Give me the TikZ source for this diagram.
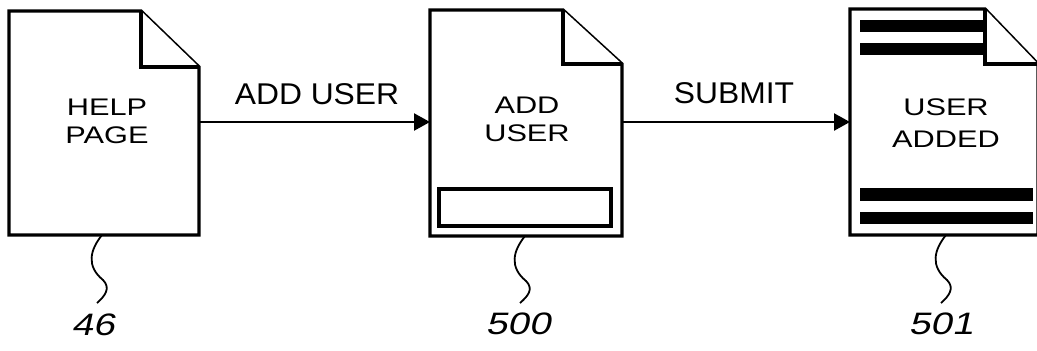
\documentclass[tikz,border=0pt]{standalone}
\usepackage{fontspec}
\setmainfont{Liberation Sans}
\newfontfamily\pagefont[FakeStretch=1.28]{Liberation Sans}
\newfontfamily\flowfont[FakeStretch=1.06]{Liberation Sans}
\newfontfamily\numfont[FakeStretch=1.25,FakeSlant=0.22]{Liberation Sans}
\usetikzlibrary{arrows.meta}
\begin{document}
\begin{tikzpicture}[x=1pt,y=-1pt,
  page/.style={line width=3.3pt,line join=miter,fill=white},
  bar/.style={fill=black},
  flow/.style={line width=2.4pt,-{Triangle[length=16pt,width=17pt]}},
  lead/.style={line width=1.8pt},
  pagetext/.style={font=\pagefont\fontsize{24}{28}\selectfont,align=center,inner sep=0pt},
  flowlabel/.style={font=\flowfont\fontsize{30}{32}\selectfont,inner sep=0pt},
  refnum/.style={font=\numfont\fontsize{31}{32}\selectfont,inner sep=0pt}]
\useasboundingbox (0,0) rectangle (1037,351);
% page 1
\draw[page] (9,11) -- (141,11) -- (199,67) -- (199,235) -- (9,235) -- cycle;
\draw[page] (141,11) -- (141,67) -- (199,67);
\coordinate (p1r) at (199,122);
\coordinate (p1b) at (102,235);
\node[pagetext] (t1) at (107,121) {HELP\\PAGE};
% page 2
\draw[page] (430,10) -- (563,10) -- (622,64) -- (622,236) -- (430,236) -- cycle;
\draw[page] (563,10) -- (563,64) -- (622,64);
\draw[line width=3.3pt] (439,189) rectangle (611,226);
\coordinate (p2l) at (430,122);
\coordinate (p2r) at (622,122);
\coordinate (p2b) at (525,236);
\node[pagetext] (t2) at (527,119) {ADD\\USER};
% page 3
\draw[page] (850,9) -- (985,9) -- (1038,64) -- (1038,235) -- (850,235) -- cycle;
\draw[page] (985,9) -- (985,64) -- (1038,64);
\fill[bar] (860,20) rectangle (983,32);
\fill[bar] (860,43) rectangle (983,55);
\fill[bar] (860,188) rectangle (1033,201);
\fill[bar] (860,212) rectangle (1033,224);
\coordinate (p3l) at (850,122);
\coordinate (p3b) at (946,235);
\node[pagetext,font=\pagefont\fontsize{24}{32}\selectfont] (t3) at (946,123) {USER\\ADDED};
% connectors
\draw[flow] (p1r) -- (p2l);
\draw[flow] (p2r) -- (p3l);
\node[flowlabel] (l1) at (317,94) {ADD USER};
\node[flowlabel] (l2) at (734,93) {SUBMIT};
% leaders
\coordinate (e1) at (97,303);
\coordinate (e2) at (520,303);
\coordinate (e3) at (941,303);
\draw[lead] (p1b) .. controls (90,250) and (86,266) .. (103,280) .. controls (111,288) and (105,296) .. (e1);
\draw[lead] (p2b) .. controls (513,251) and (509,267) .. (526,281) .. controls (534,289) and (528,296) .. (e2);
\draw[lead] (p3b) .. controls (934,250) and (930,266) .. (947,280) .. controls (955,288) and (949,296) .. (e3);
\node[refnum] (n1) at (93,325) {46};
\node[refnum] (n2) at (518,324) {500};
\node[refnum] (n3) at (941,324) {501};
\end{tikzpicture}
\end{document}
